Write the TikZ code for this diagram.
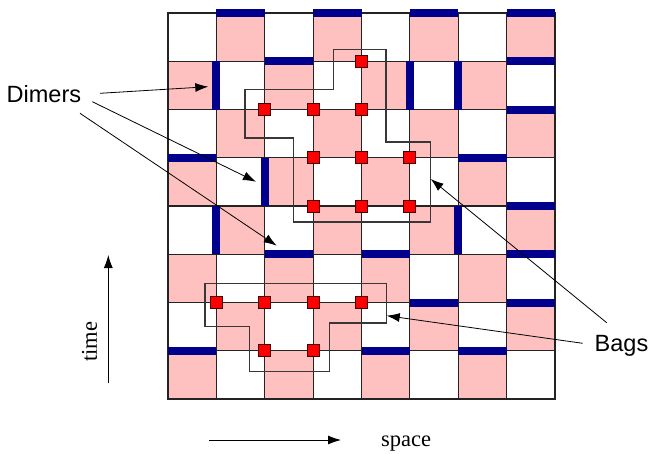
\documentclass[tikz,border=0pt]{standalone}
\usepackage{fontspec}
\setmainfont{Liberation Serif}
\setsansfont{Liberation Sans}
\usetikzlibrary{arrows.meta}
\definecolor{cellpink}{RGB}{255,192,192}
\definecolor{dimerblue}{RGB}{0,0,140}
\definecolor{gridcol}{RGB}{35,35,35}
\definecolor{bagcol}{RGB}{55,55,55}
\definecolor{sqborder}{RGB}{70,0,0}
\tikzset{
  gridln/.style={draw=gridcol, line width=1.1pt},
  dimer/.style={draw=dimerblue, line width=8pt, line cap=butt},
  bagsq/.style={rectangle, draw=sqborder, fill=red, minimum size=12pt, inner sep=0pt, line width=0.9pt},
  bagline/.style={draw=bagcol, line width=1.1pt},
  ptr/.style={draw=black, line width=0.8pt, -{Latex[length=13pt,width=9pt]}},
  sanslbl/.style={font=\sffamily\fontsize{23.5}{28}\selectfont, inner sep=0pt},
  seriflbl/.style={font=\rmfamily\fontsize{22.5}{27}\selectfont, inner sep=0pt}
}
\begin{document}
\begin{tikzpicture}[x=1pt,y=-1pt]
\useasboundingbox (0,0) rectangle (648,453);
\begin{scope}[shift={(168,13)}, x=48.375pt, y=-48.25pt]
  % checkerboard
  \foreach \r in {0,...,7} {
    \foreach \c in {0,...,7} {
      \pgfmathtruncatemacro\pp{mod(\r+\c,2)}
      \ifnum\pp=1 \fill[cellpink] (\c,\r) rectangle ++(1,1); \fi
    }
  }
  % grid
  \foreach \i in {1,...,7} {
    \draw[gridln] (\i,0) -- (\i,8);
    \draw[gridln] (0,\i) -- (8,\i);
  }
  \draw[gridln, line width=1.5pt] (0,0) rectangle (8,8);
  % horizontal dimers
  \foreach \c/\r in {1/0,3/0,5/0,7/0,2/1,7/1,7/2,0/3,6/3,7/4,2/5,4/5,7/5,5/6,7/6,0/7,4/7,6/7}
    \draw[dimer] (\c,\r) -- ++(1,0);
  % vertical dimers
  \foreach \c/\r in {1/1,5/1,6/1,2/3,1/4,6/4}
    \draw[dimer] (\c,\r) -- ++(0,1);
\end{scope}
% bag outlines
\draw[bagline] (333.3,49.3) -- (386,49.3) -- (386,142) -- (430.7,142) -- (430.7,222) -- (293.3,222) -- (293.3,138) -- (245,138) -- (245,89.7) -- (333.3,89.7) -- cycle;
\draw[bagline] (205,283.3) -- (386.5,283.3) -- (386.5,323) -- (329.5,323) -- (329.5,371.7) -- (249.2,371.7) -- (249.2,326.7) -- (205,326.7) -- cycle;
% bag squares
\begin{scope}[shift={(168,13)}, x=48.375pt, y=-48.25pt]
  \foreach \c/\r [count=\k] in {4/1,2/2,3/2,4/2,3/3,4/3,5/3,3/4,4/4,5/4}
    \node[bagsq] (ta\k) at (\c,\r) {};
  \foreach \c/\r [count=\k] in {1/6,2/6,3/6,4/6,2/7,3/7}
    \node[bagsq] (ba\k) at (\c,\r) {};
\end{scope}
% labels
\node[sanslbl, anchor=base west] (dimers) at (6.5,102.3) {Dimers};
\node[sanslbl, anchor=base west] (bags) at (594.5,351.7) {Bags};
\node[seriflbl, rotate=90] (time) at (89.5,341.7) {time};
\node[seriflbl, anchor=base west] (space) at (381,446.7) {space};
% pointer coordinates
\coordinate (d1s) at (100,93.3);   \coordinate (d1e) at (208.3,86.7);
\coordinate (d2s) at (92.3,101.7); \coordinate (d2e) at (256,181.7);
\coordinate (d3s) at (80,113.3);   \coordinate (d3e) at (276.7,245.7);
\coordinate (b1s) at (606.7,322.7); \coordinate (b1e) at (430.7,179);
\coordinate (b2s) at (582.7,343.3); \coordinate (b2e) at (386.7,315.7);
\coordinate (ts) at (108.3,383.3); \coordinate (te) at (108.3,255);
\coordinate (ss) at (209,440);     \coordinate (se) at (341,440);
\draw[ptr] (d1s) -- (d1e);
\draw[ptr] (d2s) -- (d2e);
\draw[ptr] (d3s) -- (d3e);
\draw[ptr] (b1s) -- (b1e);
\draw[ptr] (b2s) -- (b2e);
\draw[ptr] (ts) -- (te);
\draw[ptr] (ss) -- (se);
\end{tikzpicture}
\end{document}
